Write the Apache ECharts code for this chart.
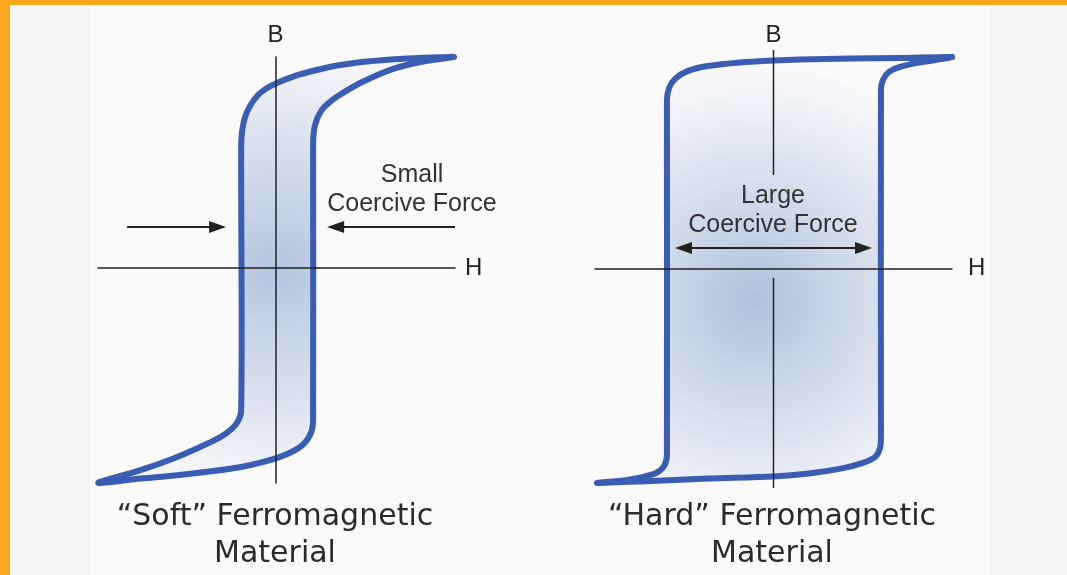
<!DOCTYPE html>
<html>
<head>
<meta charset="utf-8">
<script src="https://cdn.jsdelivr.net/npm/echarts@6/dist/echarts.min.js"></script>
<style>
  html, body { margin: 0; padding: 0; background: #f6f6f6; }
  #chart { position: absolute; left: 0; top: 0; width: 1067px; height: 575px; }
  .bar { position: absolute; background: #fba61f; z-index: 5; }
</style>
</head>
<body>
<div id="chart"></div>
<div class="bar" style="left:0;top:0;width:1067px;height:5px"></div>
<div class="bar" style="left:0;top:0;width:10px;height:575px"></div>
<script>
// loop branches, in (H, B) units of each panel
var softUpper = [[10.05,10.0],[8.87,9.98],[7.01,9.91],[5.15,9.79],[3.74,9.63],[2.79,9.48],[1.27,9.15],[0.08,8.77],[-0.48,8.53],[-0.99,8.20],[-1.44,7.68],[-1.72,7.16],[-1.89,6.45],[-1.94,5.60],[-1.94,-6.73],[-2.22,-7.40],[-3.01,-7.97],[-4.25,-8.49],[-5.83,-9.06],[-7.74,-9.63],[-9.99,-10.19]];
var softLower = [[-9.99,-10.19],[-7.74,-10.0],[-5.83,-9.86],[-3.86,-9.67],[-1.94,-9.44],[0.08,-9.01],[1.38,-8.49],[1.94,-7.92],[2.11,-7.21],[2.11,5.83],[2.22,6.78],[2.60,7.49],[3.16,7.94],[3.74,8.27],[4.76,8.77],[6.62,9.44],[8.53,9.82],[10.05,10.0]];
var hardUpper = [[10.0,10.02],[7.09,9.97],[4.29,9.95],[1.48,9.90],[-0.03,9.85],[-1.88,9.76],[-3.67,9.59],[-4.79,9.36],[-5.52,8.98],[-5.85,8.55],[-5.97,7.98],[-5.97,-8.83],[-6.13,-9.36],[-6.58,-9.69],[-7.42,-9.90],[-8.38,-10.04],[-9.89,-10.16]];
var hardLower = [[-9.89,-10.16],[-7.42,-10.09],[-3.67,-9.95],[-0.03,-9.85],[1.99,-9.71],[3.84,-9.47],[5.01,-9.21],[5.69,-8.93],[5.97,-8.50],[6.02,-7.89],[6.02,8.46],[6.13,8.93],[6.47,9.31],[7.09,9.55],[7.98,9.73],[9.10,9.88],[10.0,10.02]];

// coercive force arrows: [fromH, fromB, tipH, tipB, headAtStart]
var softArrows = [[-8.36, 1.94, -2.79, 1.94, 0], [10.1, 1.94, 2.90, 1.94, 0]];
var hardArrows = [[-5.52, 0.97, 5.52, 0.97, 1]];
// hard B axis, broken where the label sits
var hardBAxis = [[0,10.35],[0,4.43],[0,'-'],[0,-0.45],[0,-10.4]];

var softRange = { hMin: -10, hMax: 10.1, bMin: -10.2, bMax: 10 };
var hardRange = { hMin: -10, hMax: 10, bMin: -10.4, bMax: 10.35 };

var loopBlue = '#3a5cb3';
var ink = '#222';

function closed(upper, lower) {
  return upper.concat(lower.slice(1, -1));
}

function loopSeries(idx, pts, center, radius, stops) {
  return {
    type: 'custom', xAxisIndex: idx, yAxisIndex: idx, z: 1,
    data: [[0, 0]],
    renderItem: function(params, api) {
      var px = pts.map(function(p) { return api.coord(p); });
      var c = api.coord(center);
      return {
        type: 'polygon',
        shape: { points: px, smooth: 0.3 },
        style: {
          fill: { type: 'radial', x: c[0], y: c[1], r: radius, global: true, colorStops: stops },
          stroke: loopBlue, lineWidth: 6, lineJoin: 'round'
        }
      };
    }
  };
}

// arrow with a filled triangular head whose tip sits on the data point
function head(tip, d, len, half) {
  var bx = tip[0] - d[0] * len, by = tip[1] - d[1] * len;
  return {
    type: 'polygon',
    shape: { points: [tip, [bx - d[1] * half, by + d[0] * half], [bx + d[1] * half, by - d[0] * half]] },
    style: { fill: ink }
  };
}

function arrowSeries(idx, data) {
  return {
    type: 'custom', xAxisIndex: idx, yAxisIndex: idx, z: 6,
    data: data,
    encode: { x: [0, 2], y: [1, 3] },
    renderItem: function(params, api) {
      var a = api.coord([api.value(0), api.value(1)]);
      var b = api.coord([api.value(2), api.value(3)]);
      var dx = b[0] - a[0], dy = b[1] - a[1], n = Math.sqrt(dx * dx + dy * dy);
      var d = [dx / n, dy / n];
      var L = 17, W = 6;
      var both = api.value(4) === 1;
      var kids = [{
        type: 'line',
        shape: {
          x1: a[0] + (both ? d[0] * L * 0.6 : 0), y1: a[1] + (both ? d[1] * L * 0.6 : 0),
          x2: b[0] - d[0] * L * 0.6, y2: b[1] - d[1] * L * 0.6
        },
        style: { stroke: ink, lineWidth: 2 }
      }, head(b, d, L, W)];
      if (both) kids.push(head(a, [-d[0], -d[1]], L, W));
      return { type: 'group', children: kids };
    }
  };
}

function axisX(idx, r, gap) {
  return {
    type: 'value', gridIndex: idx, min: r.hMin, max: r.hMax, z: 5,
    name: 'H', nameLocation: 'end', nameGap: gap,
    nameTextStyle: { color: ink, fontSize: 24, fontFamily: 'Liberation Sans' },
    axisLine: { onZero: true, lineStyle: { color: ink, width: 1.5 } },
    axisTick: { show: false }, axisLabel: { show: false }, splitLine: { show: false }
  };
}

function axisY(idx, r, gap, showLine) {
  return {
    type: 'value', gridIndex: idx, min: r.bMin, max: r.bMax, z: 5,
    name: 'B', nameLocation: 'end', nameGap: gap,
    nameTextStyle: { color: ink, fontSize: 24, fontFamily: 'Liberation Sans' },
    axisLine: { show: true, onZero: true, lineStyle: { color: showLine ? ink : 'transparent', width: 1.5 } },
    axisTick: { show: false }, axisLabel: { show: false }, splitLine: { show: false }
  };
}

var chart = echarts.init(document.getElementById('chart'));
chart.setOption({
  animation: false,
  backgroundColor: '#f6f6f6',
  grid: [
    { left: 98, top: 57, width: 357, height: 426 },
    { left: 595, top: 50, width: 357, height: 438 }
  ],
  xAxis: [axisX(0, softRange, 10), axisX(1, hardRange, 16)],
  yAxis: [axisY(0, softRange, 10, true), axisY(1, hardRange, 3, false)],
  graphic: [
    { type: 'rect', z: -10, shape: { x: 90, y: 0, width: 900, height: 575 }, style: { fill: '#fafafa' } },
    { type: 'text', z: 20, x: 412, y: 190, style: {
        text: 'Small\nCoercive Force', align: 'center', verticalAlign: 'middle',
        font: '25px "Liberation Sans", Arial', lineHeight: 29, fill: '#333' } },
    { type: 'text', z: 20, x: 773, y: 211, style: {
        text: 'Large\nCoercive Force', align: 'center', verticalAlign: 'middle',
        font: '25px "Liberation Sans", Arial', lineHeight: 29, fill: '#333' } },
    { type: 'text', z: 20, x: 275, y: 536, style: {
        text: '\u201cSoft\u201d Ferromagnetic\nMaterial', align: 'center', verticalAlign: 'middle',
        font: '30px "DejaVu Sans"', lineHeight: 37, fill: '#2b2b2b' } },
    { type: 'text', z: 20, x: 772, y: 536, style: {
        text: '\u201cHard\u201d Ferromagnetic\nMaterial', align: 'center', verticalAlign: 'middle',
        font: '30px "DejaVu Sans"', lineHeight: 37, fill: '#2b2b2b' } }
  ],
  series: [
    loopSeries(0, closed(softUpper, softLower), [0, 0], 210, [
      { offset: 0, color: '#b5c5df' }, { offset: 0.55, color: '#d6deec' }, { offset: 1, color: '#f3f5f9' }
    ]),
    loopSeries(1, closed(hardUpper, hardLower), [-1, -1.5], 240, [
      { offset: 0, color: '#b0c2dc' }, { offset: 0.5, color: '#d7dfec' }, { offset: 1, color: '#fbfbfd' }
    ]),
    {
      type: 'line', xAxisIndex: 1, yAxisIndex: 1, z: 6,
      data: hardBAxis, showSymbol: false, connectNulls: false, clip: false,
      lineStyle: { color: ink, width: 1.5 }
    },
    arrowSeries(0, softArrows),
    arrowSeries(1, hardArrows)
  ]
});
</script>
</body>
</html>
